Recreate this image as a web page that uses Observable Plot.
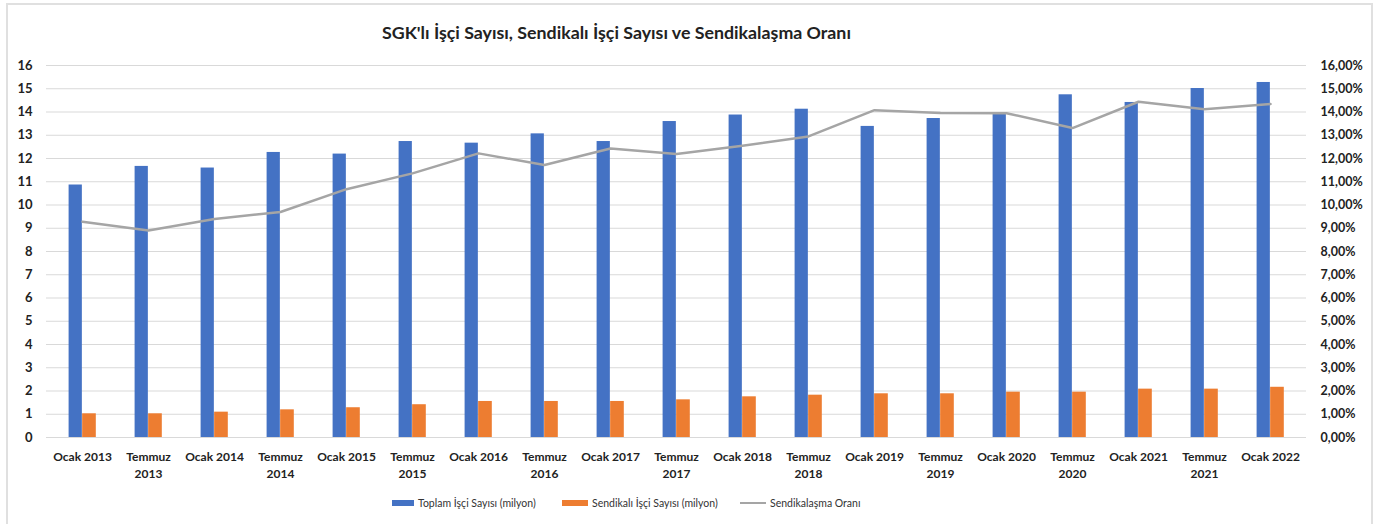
<!DOCTYPE html>
<html>
<head>
<meta charset="utf-8">
<script src="https://cdn.jsdelivr.net/npm/d3@7"></script>
<script src="https://cdn.jsdelivr.net/npm/@observablehq/plot@0.6"></script>
<style>
  html, body { margin: 0; padding: 0; background: #fff; overflow: hidden; }
  #wrap { position: relative; width: 1381px; height: 524px; font-family: Lato, "Noto Sans", sans-serif; }
  #frame { position: absolute; left: 6px; top: 3px; width: 1367px; height: 540px; border: 2px solid #e0e0e0; box-sizing: border-box; }
  #title { position: absolute; left: 382px; top: 21px; font-size: 17.8px; font-weight: 700; color: #222; white-space: nowrap; }
  #chart { position: absolute; left: 0; top: 0; }
  .lg { position: absolute; top: 496px; font-size: 10.5px; color: #333; white-space: nowrap; display: flex; align-items: center; height: 14px; }
  .sw { display: inline-block; margin-right: 4px; }
</style>
</head>
<body>
<div id="wrap">
  <div id="frame"></div>
  <div id="chart"></div>
  <div id="title">SGK'lı İşçi Sayısı, Sendikalı İşçi Sayısı ve Sendikalaşma Oranı</div>
  <div class="lg" style="left:392px"><span class="sw" style="width:22px;height:6px;background:#4472C4"></span>Toplam İşçi Sayısı (milyon)</div>
  <div class="lg" style="left:562px"><span class="sw" style="width:26px;height:6px;background:#ED7D31"></span>Sendikalı İşçi Sayısı (milyon)</div>
  <div class="lg" style="left:740px"><span class="sw" style="width:26px;height:2.5px;background:#A5A5A5"></span>Sendikalaşma Oranı</div>
</div>
<script>
const categories = [
  "Ocak 2013", "Temmuz 2013", "Ocak 2014", "Temmuz 2014", "Ocak 2015", "Temmuz 2015",
  "Ocak 2016", "Temmuz 2016", "Ocak 2017", "Temmuz 2017", "Ocak 2018", "Temmuz 2018",
  "Ocak 2019", "Temmuz 2019", "Ocak 2020", "Temmuz 2020", "Ocak 2021", "Temmuz 2021", "Ocak 2022"
];
const toplam = [10.86, 11.66, 11.59, 12.26, 12.19, 12.73, 12.66, 13.06, 12.73, 13.59, 13.87, 14.12, 13.38, 13.72, 13.91, 14.74, 14.41, 15.01, 15.27];
const sendikali = [1.02, 1.02, 1.09, 1.19, 1.28, 1.41, 1.55, 1.55, 1.55, 1.62, 1.75, 1.82, 1.88, 1.88, 1.95, 1.95, 2.08, 2.08, 2.16];
const oran = [9.28, 8.90, 9.40, 9.70, 10.68, 11.36, 12.22, 11.72, 12.43, 12.19, 12.55, 12.95, 14.08, 13.96, 13.95, 13.31, 14.44, 14.12, 14.34];
const leftTicks = d3.range(0, 17);

const data = categories.map((c, i) => ({cat: c, toplam: toplam[i], sendikali: sendikali[i], oran: oran[i]}));

const fmtPct = d => d.toFixed(2).replace(".", ",") + "%";
const fmtCat = d => d.startsWith("Temmuz") ? d.replace(" ", "\n") : d;

const plot = Plot.plot({
  width: 1381,
  height: 524,
  marginTop: 65,
  marginBottom: 87,
  marginLeft: 46,
  marginRight: 75,
  style: {fontFamily: "Lato, 'Noto Sans', sans-serif", background: "transparent", color: "#222"},
  x: {type: "band", domain: categories, padding: 0},
  y: {domain: [0, 16]},
  marks: [
    Plot.gridY(leftTicks, {stroke: "#d9d9d9", strokeOpacity: 1, strokeWidth: 1}),
    Plot.barY(data, {x: "cat", y: "toplam", fill: "#4472C4", insetLeft: 19.6, insetRight: 33.15}),
    Plot.barY(data, {x: "cat", y: "sendikali", fill: "#ED7D31", insetLeft: 33.15, insetRight: 19.2}),
    Plot.line(data, {x: "cat", y: "oran", stroke: "#A5A5A5", strokeWidth: 2.5}),
    Plot.axisY(leftTicks, {anchor: "left", tickSize: 0, tickPadding: 14, fontSize: 13, fontWeight: 700, label: null}),
    Plot.axisY(leftTicks, {anchor: "right", tickSize: 0, tickPadding: 14, fontSize: 12.5, fontWeight: 700, tickFormat: fmtPct, label: null}),
    Plot.axisX({tickSize: 0, tickPadding: 12, fontSize: 12, fontWeight: 700, lineHeight: 1.4, tickFormat: fmtCat, label: null})
  ]
});
document.getElementById("chart").appendChild(plot);
</script>
</body>
</html>
